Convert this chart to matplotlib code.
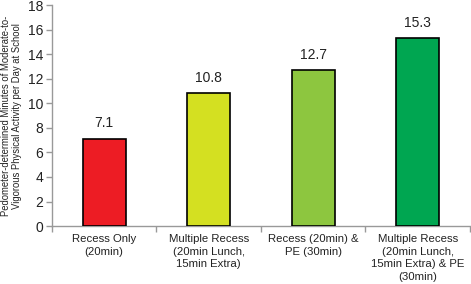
import matplotlib
matplotlib.use("Agg")
import matplotlib.pyplot as plt
import numpy as np

categories = ["Recess Only\n(20min)",
              "Multiple Recess\n(20min Lunch,\n15min Extra)",
              "Recess (20min) &\nPE (30min)",
              "Multiple Recess\n(20min Lunch,\n15min Extra) & PE\n(30min)"]
values = [7.1, 10.8, 12.7, 15.3]
value_labels = ["7.1", "10.8", "12.7", "15.3"]
colors = ["#ED1C24", "#D4E021", "#8DC63F", "#00A651"]
yticks = [0, 2, 4, 6, 8, 10, 12, 14, 16, 18]

plt.rcParams['font.family'] = ['Liberation Sans', 'DejaVu Sans']
fig = plt.figure(figsize=(4.71, 2.84), dpi=100)
ax = fig.add_axes([0.110, 0.204, 0.888, 0.778])
x = np.arange(len(values))
ax.bar(x, values, width=0.41, color=colors, edgecolor="black", linewidth=1.2, zorder=3)
for xi, v, lab in zip(x, values, value_labels):
    ax.text(xi, v + 0.7, lab, ha="center", va="bottom", fontsize=10, color="#222222")

ax.set_xlim(-0.5, 3.5)
ax.set_ylim(0, 18)
ax.set_yticks(yticks)
ax.tick_params(axis="y", labelsize=10, colors="#222222", length=4, width=1, color="#999999", pad=2)
ax.set_xticks(x)
ax.set_xticklabels(categories, fontsize=8.2, color="#222222", linespacing=1.3)
ax.tick_params(axis="x", length=0, pad=6)
ax.set_xticks(np.arange(-0.5, 4.0, 1.0), minor=True)
ax.tick_params(axis="x", which="minor", length=4, width=1, color="#999999")
for s in ["top", "right"]:
    ax.spines[s].set_visible(False)
for s in ["left", "bottom"]:
    ax.spines[s].set_color("#999999")
    ax.spines[s].set_linewidth(1)
ax.set_ylabel("Pedometer-determined Minutes of Moderate-to-\nVigorous Physical Activity per Day at School",
              fontsize=6.85, color="#222222", labelpad=4, linespacing=1.2)
fig.savefig("out.png", dpi=100)
